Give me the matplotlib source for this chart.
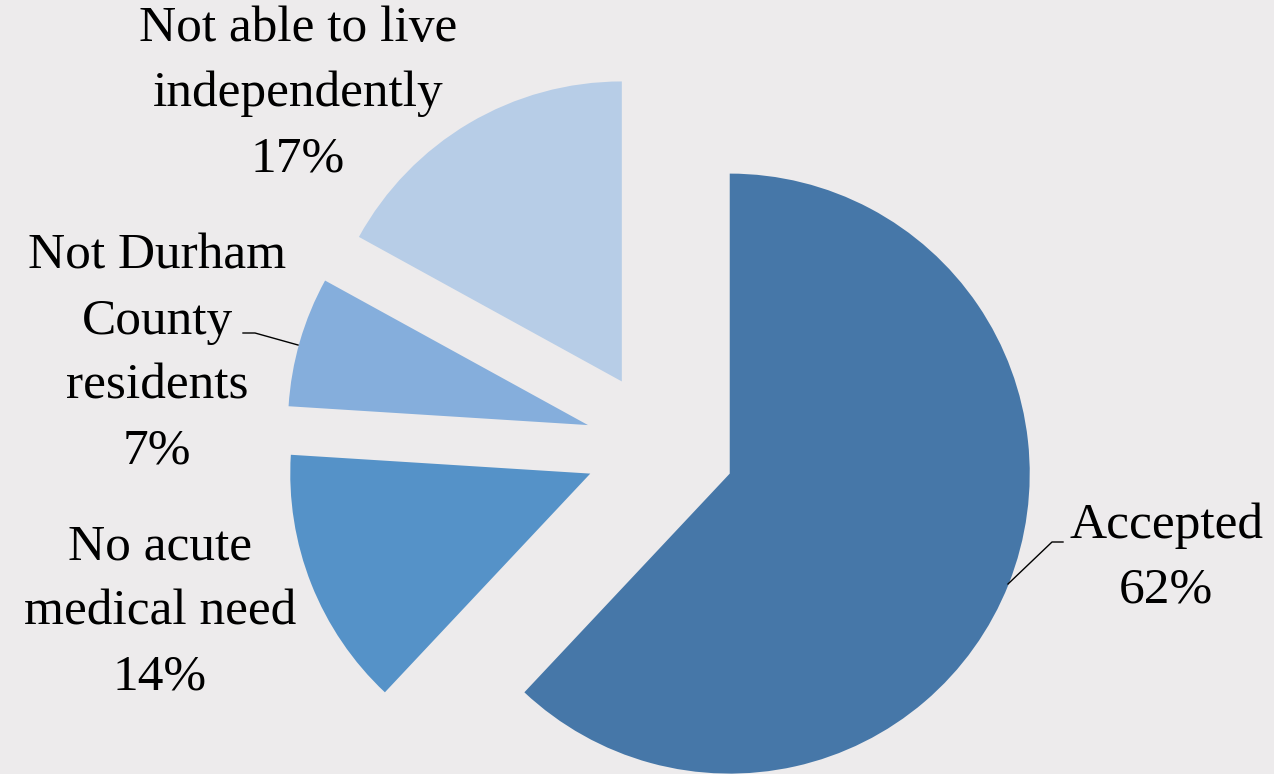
import matplotlib.pyplot as plt

# Resultados de las derivaciones (porcentaje)
categories = ["Accepted", "No acute\nmedical need", "Not Durham\nCounty\nresidents",
              "Not able to live\nindependently"]
shares = [62, 14, 7, 17]
colors = ["#4677A8", "#5592C8", "#85AEDC", "#B7CDE7"]

# Posiciones de las etiquetas (coordenadas en píxeles del lienzo)
label_xy = [(1166, 216), (160, 162), (157, 420), (298, 680)]

bg = "#EDEBEC"
fig = plt.figure(figsize=(12.74, 7.74), dpi=100, facecolor=bg)
ax = fig.add_axes([0, 0, 1, 1])
ax.set_facecolor(bg)
ax.set_xlim(0, 1274)
ax.set_ylim(0, 774)
ax.set_aspect("equal")
ax.axis("off")

ax.pie(shares, colors=colors, startangle=90, counterclock=False,
       center=(660, 328), radius=300, explode=[75] * len(shares),
       wedgeprops=dict(linewidth=0))
ax.set_xlim(0, 1274)
ax.set_ylim(0, 774)

for name, val, (x, y) in zip(categories, shares, label_xy):
    ax.text(x, y, f"{name}\n{val}%", ha="center", va="center",
            multialignment="center", fontsize=37, linespacing=1.52,
            family="Liberation Serif", color="black")

# Líneas guía
ax.plot([243, 255, 298], [441, 441, 429], color="black", lw=1)
ax.plot([1063, 1052, 1008], [232, 232, 190], color="black", lw=1)

fig.savefig("out.png", dpi=100, facecolor=bg)
